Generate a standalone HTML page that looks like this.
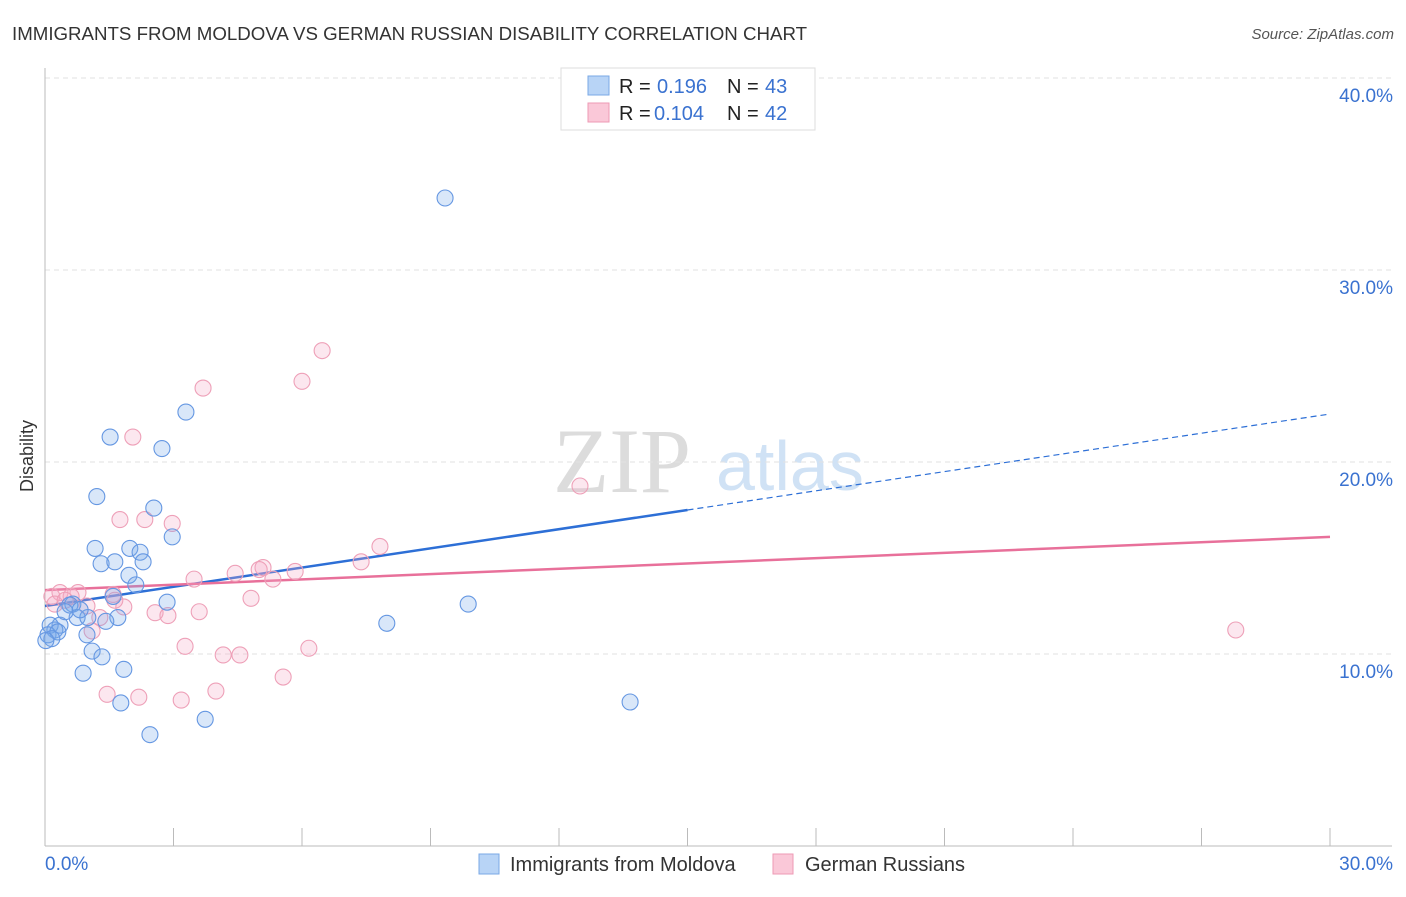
<!DOCTYPE html>
<html><head><meta charset="utf-8"><style>
body{margin:0;background:#fff;font-family:"Liberation Sans",sans-serif}
svg text{font-family:"Liberation Sans",sans-serif}
</style></head><body>
<svg id="chart" width="1406" height="892" xmlns="http://www.w3.org/2000/svg">
<text x="12" y="40" font-size="18.7" fill="#333">IMMIGRANTS FROM MOLDOVA VS GERMAN RUSSIAN DISABILITY CORRELATION CHART</text>
<text x="1394" y="39" font-size="15" fill="#555" text-anchor="end" font-style="italic">Source: ZipAtlas.com</text>
<g>
<text x="553" y="492" font-size="92" fill="#dcdcdc" font-family="Liberation Serif" style="font-family:'Liberation Serif',serif">ZIP</text>
<text x="716" y="490" font-size="70" fill="#d0e2f5">atlas</text>
</g>
<g id="grid"></g>
<g id="axes"></g>
<g id="lines"></g>
<g id="pts"></g>
<text x="33" y="456" font-size="18" fill="#333" text-anchor="middle" transform="rotate(-90 33 456)">Disability</text>
<g>
<rect x="561" y="68" width="254" height="62" fill="#fff" stroke="#ddd"/>
<rect x="588" y="76" width="21" height="19" fill="#b8d4f6" stroke="#7aa8e6"/>
<rect x="588" y="103" width="21" height="19" fill="#fac8d8" stroke="#ee9ab4"/>
<text x="619" y="93" font-size="20" fill="#222">R = </text><text x="657" y="93" font-size="20" fill="#3a72d0">0.196</text>
<text x="727" y="93" font-size="20" fill="#222">N = </text><text x="765" y="93" font-size="20" fill="#3a72d0">43</text>
<text x="619" y="120" font-size="20" fill="#222">R = </text><text x="654" y="120" font-size="20" fill="#3a72d0">0.104</text>
<text x="727" y="120" font-size="20" fill="#222">N = </text><text x="765" y="120" font-size="20" fill="#3a72d0">42</text>
</g>
<g>
<rect x="479" y="854" width="20" height="20" fill="#b8d4f6" stroke="#7aa8e6"/>
<text x="510" y="871" font-size="20" fill="#333">Immigrants from Moldova</text>
<rect x="773" y="854" width="20" height="20" fill="#fac8d8" stroke="#ee9ab4"/>
<text x="805" y="871" font-size="20" fill="#333">German Russians</text>
</g>
</svg>
<script>
const blueX=[9.34,3.29,1.52,2.73,1.21,2.54,2.97,1.17,1.98,2.22,1.31,1.63,2.29,1.96,2.12,1.59,2.85,9.88,0.65,0.58,0.75,1.00,1.70,1.42,7.98,0.35,0.12,0.23,0.07,0.30,0.16,0.98,1.10,1.33,1.84,0.89,13.66,1.77,3.74,2.45,0.02,0.47,0.82];
const blueY=[33.75,22.6,21.3,20.7,18.2,17.6,16.1,15.5,15.5,15.3,14.7,14.8,14.8,14.1,13.6,13.0,12.7,12.6,12.6,12.55,11.9,11.9,11.9,11.7,11.6,11.5,11.5,11.25,11.0,11.15,10.8,11.0,10.15,9.85,9.2,9.0,7.5,7.45,6.6,5.8,10.7,12.2,12.3];
const pinkX=[6.47,6.0,3.69,2.05,12.49,1.75,2.33,2.97,7.82,7.38,5.09,5.0,5.84,4.44,5.32,3.48,0.35,0.77,0.61,0.16,1.59,4.81,1.84,2.57,2.87,3.6,0.98,1.28,1.10,3.27,6.16,4.16,4.55,27.8,5.56,3.99,1.45,2.19,3.18,0.23,0.47,1.63];
const pinkY=[25.8,24.2,23.85,21.3,18.75,17.0,17.0,16.8,15.6,14.8,14.5,14.4,14.3,14.2,13.9,13.9,13.2,13.2,13.0,13.0,13.1,12.9,12.45,12.15,12.0,12.2,12.5,11.9,11.2,10.4,10.3,9.95,9.95,11.25,8.8,8.07,7.9,7.75,7.6,12.6,12.8,12.8];
const yTicks=[10,20,30,40];
const yTickLabels=["10.0%","20.0%","30.0%","40.0%"];
const xTickLabels=["0.0%","30.0%"];
const blueTrend=[12.5,22.5];
const pinkTrend=[13.33,16.1];
const NS="http://www.w3.org/2000/svg";
const sx=v=>45+v/30*1285, sy=v=>846-v*19.2;
function mk(p,t,a){const e=document.createElementNS(NS,t);for(const k in a)e.setAttribute(k,a[k]);p.appendChild(e);return e;}
const grid=document.getElementById('grid'),axes=document.getElementById('axes'),lines=document.getElementById('lines'),pts=document.getElementById('pts');
yTicks.forEach((t,i)=>{
 const l=mk(grid,'line',{x1:45,x2:1392,y1:sy(t),y2:sy(t),stroke:'#e2e2e2','stroke-dasharray':'5,4'});
 
 
 const tx=mk(axes,'text',{x:1393,y:sy(t)+24,'font-size':19,fill:'#3a72d0','text-anchor':'end'});
 tx.textContent=yTickLabels[i];
 
 
});
mk(axes,'line',{x1:45,x2:45,y1:68,y2:846,stroke:'#bbb'});
mk(axes,'line',{x1:45,x2:1392,y1:846,y2:846,stroke:'#bbb'});
for(let i=0;i<=10;i++){const x=sx(i*3);mk(axes,'line',{x1:x,x2:x,y1:828,y2:846,stroke:'#bbb'});}
const xl0=mk(axes,'text',{x:45,y:870,'font-size':19,fill:'#3a72d0'});xl0.textContent=xTickLabels[0];


const xl1=mk(axes,'text',{x:1393,y:870,'font-size':19,fill:'#3a72d0','text-anchor':'end'});xl1.textContent=xTickLabels[1];


function drawPts(X,Y,fill,stroke,name){X.forEach((x,i)=>{const c=mk(pts,'circle',{cx:sx(x),cy:sy(Y[i]),r:8,fill:fill,stroke:stroke,'stroke-width':1.1});
 
 });}
drawPts(pinkX,pinkY,'rgba(246,170,196,0.28)','#eea0b8','point-german-russian');
drawPts(blueX,blueY,'rgba(120,170,235,0.28)','#6597e2','point-moldova');
const bAt=x=>blueTrend[0]+(blueTrend[1]-blueTrend[0])*x/30;
const bl=mk(lines,'line',{x1:sx(0),y1:sy(bAt(0)),x2:sx(15),y2:sy(bAt(15)),stroke:'#2d6fd6','stroke-width':2.5});


const bd=mk(lines,'line',{x1:sx(15),y1:sy(bAt(15)),x2:sx(30),y2:sy(bAt(30)),stroke:'#2d6fd6','stroke-width':1.2,'stroke-dasharray':'6,4'});


const pl=mk(lines,'line',{x1:sx(0),y1:sy(pinkTrend[0]),x2:sx(30),y2:sy(pinkTrend[1]),stroke:'#e8709a','stroke-width':2.5});


</script>
</body></html>
